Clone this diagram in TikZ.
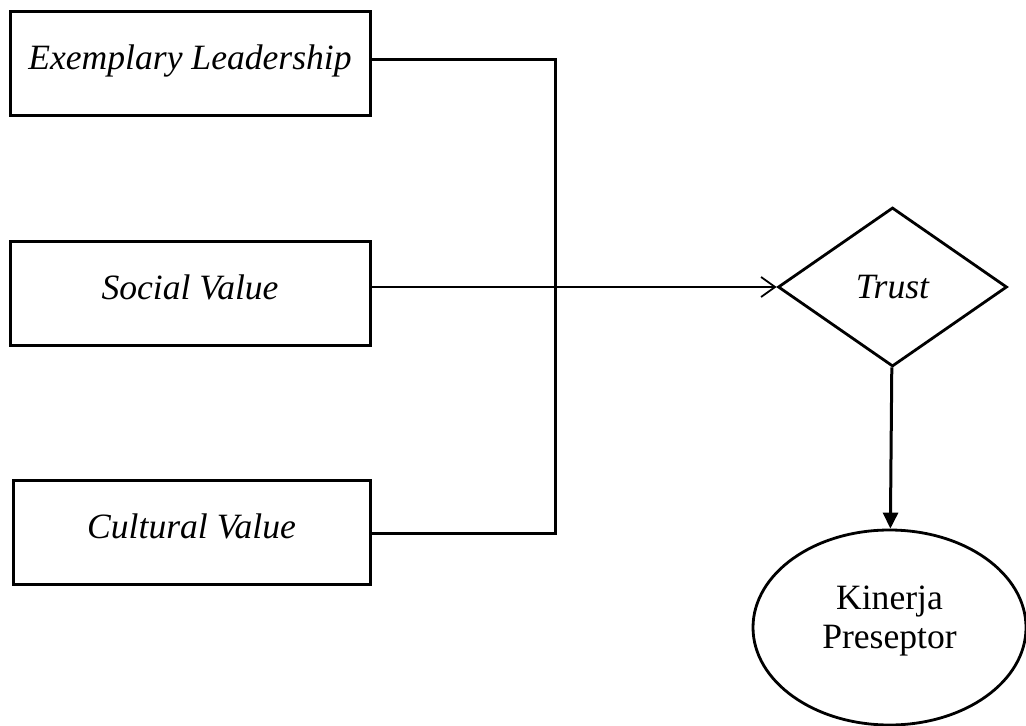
\documentclass[tikz,border=0pt]{standalone}
\usepackage{fontspec}
\setmainfont{Liberation Serif}
\usetikzlibrary{shapes.geometric,arrows.meta}

\begin{document}
\begin{tikzpicture}[
x=0.5pt,y=-0.5pt,
mybox/.style={
  draw,
  line width=1.5pt,
  minimum width=180pt,
  minimum height=52pt,
  font=\fontsize{17.8}{21}\selectfont\itshape,
  text height=12pt,
  text depth=6pt
  },
mydiamond/.style={
  draw,
  diamond,
  line width=1.4pt,
  inner sep=0pt,
  minimum width=114.5pt,
  minimum height=79.5pt,
  font=\fontsize{17.8}{21}\selectfont\itshape
  },
myellipse/.style={
  draw,
  ellipse,
  line width=1.4pt,
  inner sep=0pt,
  minimum width=136.5pt,
  minimum height=97.5pt,
  align=center,
  font=\fontsize{17.8}{19.5}\selectfont
  },
myline/.style={line width=1.5pt}
]
\useasboundingbox (0,0) rectangle (1026,726);
\node[mybox] (el) at (190,64) {Exemplary Leadership};
\node[mybox] (sv) at (190,293.5) {Social Value};
\node[mybox,minimum width=178.5pt] (cv) at (191.5,532.5) {Cultural Value};
\node[mydiamond] (trust) at (892.5,287) {Trust};
\node[myellipse,text depth=10pt] (kp) at (889.5,627.5) {Kinerja\\Preseptor};
\coordinate (jt) at (555,60);
\coordinate (jb) at (555,533);
\draw[myline] (el.east |- jt) -- (jt) -- (jb) -- (cv.east |- jb);
\draw[line width=0.9pt,-{Straight Barb[length=7pt,width=10pt]}] (sv.east |- trust.west) -- (trust.west);
\draw[myline,-{Triangle[length=8pt,width=7.5pt]}] (trust) -- (kp);
\end{tikzpicture}
\end{document}
